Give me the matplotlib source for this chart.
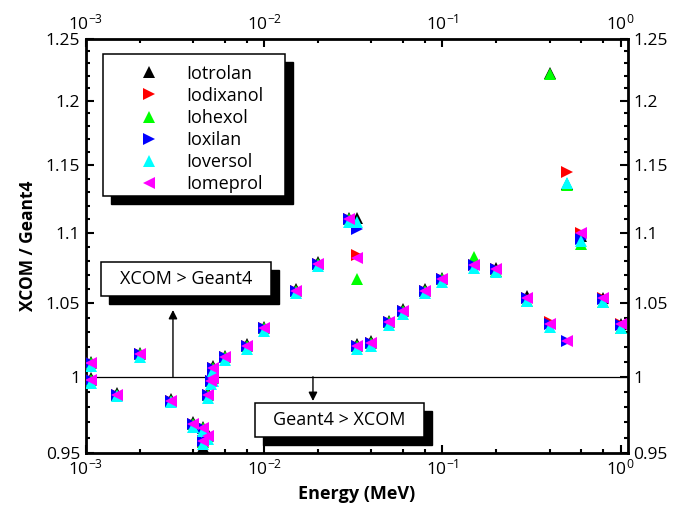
import numpy as np
import matplotlib
matplotlib.use("Agg")
import matplotlib.pyplot as plt
from matplotlib.patches import Rectangle
from matplotlib.ticker import LogLocator, MultipleLocator, FuncFormatter, NullFormatter

plt.rcParams["font.family"] = ["Open Sans", "DejaVu Sans"]
plt.rcParams["mathtext.fontset"] = "custom"
plt.rcParams["mathtext.rm"] = "Open Sans"
plt.rcParams["mathtext.it"] = "Open Sans:italic"
plt.rcParams["mathtext.bf"] = "Open Sans:bold"

# Photon energies (MeV); absorption edges of iodine appear twice (below / above)
energy = [1.0721e-3, 1.0721e-3, 1.5e-3, 2e-3, 3e-3, 4e-3,
          4.5571e-3, 4.5571e-3, 4.8521e-3, 4.8521e-3, 5e-3,
          5.1881e-3, 5.1881e-3, 6e-3, 8e-3, 1e-2, 1.5e-2, 2e-2, 3e-2,
          3.3169e-2, 3.3169e-2, 4e-2, 5e-2, 6e-2, 8e-2, 0.1, 0.15, 0.2,
          0.3, 0.4, 0.5, 0.6, 0.8, 1.0]

# XCOM / Geant4 attenuation ratio for each contrast agent
iotrolan = [0.999, 1.010, 0.989, 1.016, 0.985, 0.970, 0.967, 0.954, 0.962, 0.989,
            0.998, 1.000, 1.007, 1.014, 1.022, 1.034, 1.060, 1.079, 1.111, 1.111,
            1.022, 1.024, 1.038, 1.046, 1.060, 1.068, 1.078, 1.075, 1.055, 1.222,
            1.136, 1.098, 1.054, 1.036]
iodixanol = [0.998, 1.009, 0.988, 1.015, 0.984, 0.969, 0.966, 0.957, 0.961, 0.988,
             0.997, 0.999, 1.006, 1.013, 1.021, 1.033, 1.059, 1.078, 1.110, 1.084,
             1.021, 1.023, 1.037, 1.045, 1.059, 1.067, 1.077, 1.074, 1.054, 1.037,
             1.145, 1.100, 1.054, 1.036]
iohexol = [0.998, 1.009, 0.988, 1.015, 0.984, 0.969, 0.966, 0.957, 0.961, 0.988,
           0.997, 0.999, 1.006, 1.013, 1.021, 1.033, 1.059, 1.078, 1.110, 1.067,
           1.021, 1.023, 1.037, 1.045, 1.059, 1.067, 1.083, 1.073, 1.052, 1.221,
           1.135, 1.092, 1.051, 1.033]
ioxilan = [0.998, 1.009, 0.988, 1.015, 0.984, 0.969, 0.966, 0.958, 0.961, 0.988,
           0.997, 0.999, 1.006, 1.013, 1.021, 1.033, 1.059, 1.078, 1.110, 1.103,
           1.021, 1.023, 1.037, 1.045, 1.059, 1.067, 1.077, 1.074, 1.054, 1.036,
           1.024, 1.096, 1.053, 1.035]
ioversol = [0.996, 1.007, 0.987, 1.013, 0.983, 0.967, 0.964, 0.956, 0.959, 0.986,
            0.995, 0.997, 1.004, 1.011, 1.019, 1.031, 1.057, 1.076, 1.108, 1.108,
            1.019, 1.021, 1.035, 1.043, 1.057, 1.065, 1.075, 1.072, 1.052, 1.034,
            1.137, 1.094, 1.051, 1.033]
iomeprol = [0.998, 1.009, 0.988, 1.015, 0.984, 0.969, 0.966, 0.958, 0.961, 0.988,
            0.997, 0.999, 1.006, 1.013, 1.021, 1.033, 1.059, 1.078, 1.110, 1.082,
            1.021, 1.023, 1.037, 1.045, 1.059, 1.067, 1.077, 1.074, 1.054, 1.036,
            1.024, 1.100, 1.054, 1.036]

names = ["Iotrolan", "Iodixanol", "Iohexol", "Ioxilan", "Ioversol", "Iomeprol"]
values = [iotrolan, iodixanol, iohexol, ioxilan, ioversol, iomeprol]
markers = ["^", ">", "^", ">", "^", "<"]
colors = ["#000000", "#ff0000", "#00ff00", "#0000ff", "#00ffff", "#ff00ff"]

fig = plt.figure(figsize=(6.9, 5.11), dpi=100)
ax = fig.add_axes([0.1246, 0.1135, 0.7855, 0.8102])


# slightly stretched ratio axis (gentle quadratic spacing toward the bottom)
def y_fwd(v):
    u = 1.25 - np.asarray(v, dtype=float)
    return -(1206.6 * u + 578.0 * u * u)


def y_inv(p):
    q = -np.asarray(p, dtype=float)
    disc = np.maximum(1206.6 ** 2 + 4 * 578.0 * q, 0.0)
    return 1.25 - (-1206.6 + np.sqrt(disc)) / (2 * 578.0)


ax.set_xscale("log")
ax.set_yscale("function", functions=(y_fwd, y_inv))

ax.axhline(1.0, color="black", lw=0.9, zorder=1.5)

for name, vals, mk, col in zip(names, values, markers, colors):
    ax.plot(energy, vals, linestyle="none", marker=mk, color=col,
            markersize=9, markeredgewidth=0, label=name, zorder=3)

ax.set_xlim(1e-3, 1.1)
ax.set_ylim(0.95, 1.25)

ax.xaxis.set_major_locator(LogLocator(base=10, numticks=10))
ax.xaxis.set_minor_locator(LogLocator(base=10, subs=(2, 4, 6, 8), numticks=10))
ax.xaxis.set_minor_formatter(NullFormatter())
ax.yaxis.set_major_locator(MultipleLocator(0.05))
ax.yaxis.set_minor_locator(MultipleLocator(0.01))
ax.yaxis.set_major_formatter(FuncFormatter(lambda v, p: f"{v:g}"))
ax.yaxis.set_minor_formatter(NullFormatter())

ax.tick_params(which="both", direction="in", top=True, right=True,
               labeltop=True, labelright=True, width=1.5, labelsize=12.5)
ax.tick_params(which="major", length=6, pad=4)
ax.tick_params(which="minor", length=3)
for sp in ax.spines.values():
    sp.set_linewidth(2.0)

fig.text(28 / 690, 1 - 246 / 511, "XCOM / Geant4", rotation=90, ha="center",
         va="center", fontsize=12.5, fontweight="bold")
fig.text(0.5174, 1 - 494 / 511, "Energy (MeV)", ha="center", va="center",
         fontsize=13, fontweight="bold")

# boxes with a solid drop shadow (axes fraction coordinates)
dx, dy = 8 / 542, 8 / 414


def shadow_box(x0, y0, w, h, z):
    ax.add_patch(Rectangle((x0 + dx, y0 - dy), w, h, transform=ax.transAxes,
                           facecolor="black", edgecolor="black", lw=1.0,
                           zorder=z, clip_on=False))
    ax.add_patch(Rectangle((x0, y0), w, h, transform=ax.transAxes,
                           facecolor="white", edgecolor="black", lw=1.1,
                           zorder=z + 0.1, clip_on=False))


# legend
shadow_box(0.0314, 0.6208, 0.3358, 0.343, 5)
leg = ax.legend(loc="upper left", bbox_to_anchor=(0.0996, 0.938), frameon=False,
                fontsize=13, borderpad=0, borderaxespad=0, handlelength=1.0,
                handletextpad=1.55, labelspacing=0.23, markerscale=1.0)
leg.set_zorder(6)

# annotation boxes
shadow_box(0.0277, 0.3792, 0.3137, 0.0821, 5)
ax.text(0.1845, 0.4203, "XCOM > Geant4", transform=ax.transAxes, ha="center",
        va="center", fontsize=13, zorder=6)
shadow_box(0.3118, 0.0386, 0.3118, 0.0821, 5)
ax.text(0.4677, 0.0797, "Geant4 > XCOM", transform=ax.transAxes, ha="center",
        va="center", fontsize=13, zorder=6)

arrow = dict(arrowstyle="-|>", color="black", lw=1.0, mutation_scale=13,
             shrinkA=0, shrinkB=0)
ax.annotate("", xy=(0.1605, 0.3454), xytext=(0.1605, 1.0),
            xycoords="axes fraction", textcoords=("axes fraction", "data"),
            arrowprops=arrow, zorder=4)
ax.annotate("", xy=(0.4188, 0.1256), xytext=(0.4188, 1.0),
            xycoords="axes fraction", textcoords=("axes fraction", "data"),
            arrowprops=arrow, zorder=4)

fig.savefig("out.png", dpi=100)
